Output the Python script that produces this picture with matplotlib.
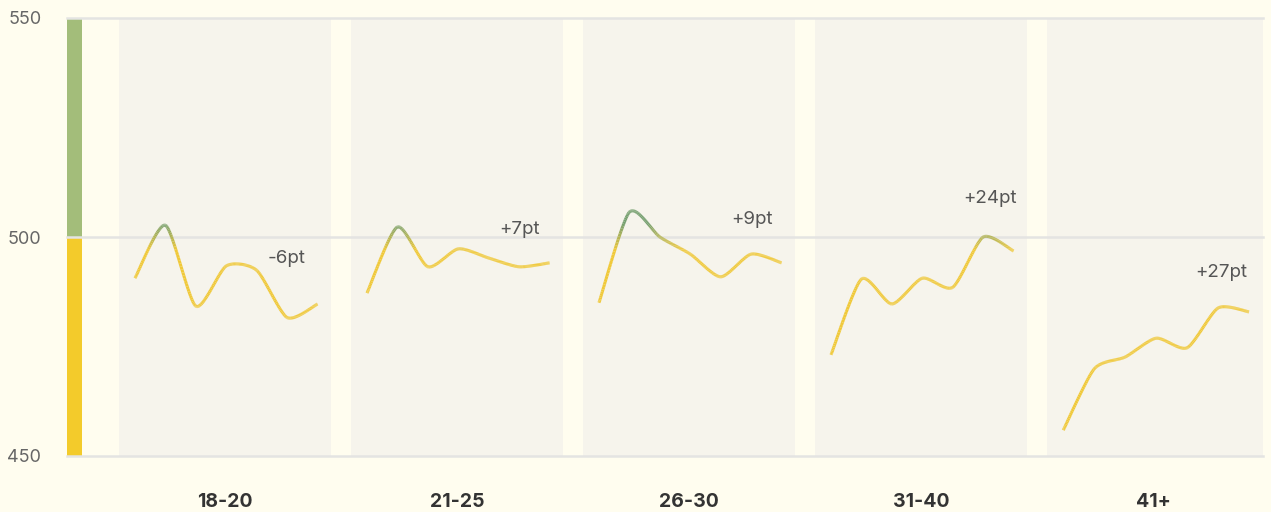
import numpy as np
import matplotlib
matplotlib.use("Agg")
import matplotlib.pyplot as plt
from matplotlib.collections import LineCollection
from matplotlib.colors import to_rgb

plt.rcParams['font.family'] = ['Inter', 'DejaVu Sans']

groups = ['18-20', '21-25', '26-30', '31-40', '41+']
scores = [
    [490.6, 502.7, 484.2, 493.4, 492.4, 481.6, 484.7],
    [487.2, 502.3, 493.2, 497.3, 495.2, 493.2, 494.1],
    [485.0, 505.7, 500.0, 496.1, 490.9, 496.1, 494.1],
    [473.1, 490.4, 484.7, 490.6, 488.5, 500.0, 496.8],
    [455.9, 469.9, 472.6, 476.9, 474.7, 483.8, 482.9],
]
label_y = [495.0, 501.8, 504.1, 508.7, 492.0]

BG = '#fffdef'
PANEL = '#f6f4ec'
GRID = '#e4e4e2'
YEL = '#f0c93a'
GRN = '#76a070'

fig = plt.figure(figsize=(12.71, 5.12), dpi=100, facecolor=BG)
ax = fig.add_axes([67 / 1271, 1 - 456 / 512, (1263 - 67) / 1271, (456 - 18) / 512])
ax.set_facecolor(BG)
ax.set_xlim(-0.224, 4.931)
ax.set_ylim(450, 550)


def cardinal(xs, ys, tension=0.3, n=40):
    P = np.column_stack([xs, ys])
    m = len(P)
    k = (1 - tension) / 6
    t = np.linspace(0, 1, n)[1:, None]
    out = [P[:1]]
    for i in range(m - 1):
        p0 = P[i - 1] if i > 0 else P[i]
        p1, p2 = P[i], P[i + 1]
        p3 = P[i + 2] if i < m - 2 else P[i + 1]
        c1 = p1 + k * (p2 - p0)
        c2 = p2 - k * (p3 - p1)
        out.append((1 - t) ** 3 * p1 + 3 * (1 - t) ** 2 * t * c1 + 3 * (1 - t) * t ** 2 * c2 + t ** 3 * p2)
    out = np.concatenate(out)
    return out[:, 0], out[:, 1]


yel = np.array(to_rgb(YEL))
grn = np.array(to_rgb(GRN))

# left colour key
ax.bar(-0.1915, 50, width=0.065, bottom=500, color='#a3bd7a', zorder=1)
ax.bar(-0.1915, 50, width=0.065, bottom=450, color='#f3cb2b', zorder=1)

for i, (g, vals) in enumerate(zip(groups, scores)):
    left = i
    w = 0.915 if i < 4 else 4.931 - i
    ax.axvspan(left, left + w, color=PANEL, lw=0, zorder=0)
    x0 = left + 0.069 * w / 0.915
    span = 0.86 * w
    px = np.linspace(x0, x0 + span, len(vals))
    xs, ys = cardinal(px, vals)
    pts = np.column_stack([xs, ys]).reshape(-1, 1, 2)
    segs = np.concatenate([pts[:-1], pts[1:]], axis=1)
    mid = (ys[:-1] + ys[1:]) / 2
    f = np.clip((mid - 497) / 6, 0, 1)[:, None]
    cols = yel * (1 - f) + grn * f
    lc = LineCollection(segs, colors=cols, linewidths=2.2, capstyle='butt', joinstyle='round', zorder=3)
    ax.add_collection(lc)
    diff = round(vals[-1] - vals[0])
    ax.text(left + 0.64, label_y[i], f'{diff:+d}pt', ha='left', va='center',
            fontsize=13.5, color='#555555', zorder=4)
    ax.text(left + 0.4575, 439.6, g, ha='center', va='center', fontsize=14,
            fontweight='bold', color='#333333')

for yv in [450, 500, 550]:
    ax.axhline(yv, color=GRID, lw=1.8, zorder=2, clip_on=False)

ax.set_yticks([450, 500, 550])
ax.set_yticklabels(['450', '500', '550'])
ax.tick_params(axis='y', length=0, pad=18.5, labelsize=13, labelcolor='#666666')
ax.set_xticks([])
for s in ax.spines.values():
    s.set_visible(False)

fig.savefig('out.png', dpi=100, facecolor=BG)
